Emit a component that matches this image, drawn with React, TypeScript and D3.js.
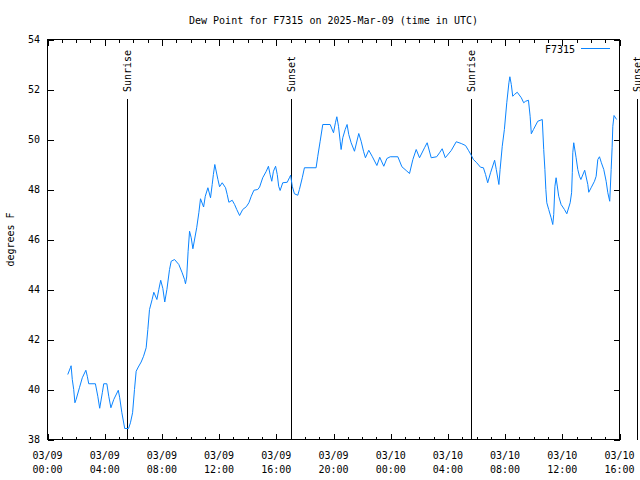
import React from "react";
import * as d3 from "d3";

const chartTitle = "Dew Point for F7315 on 2025-Mar-09 (time in UTC)";
const seriesName = "F7315";
const yLabel = "degrees F";

const times: string[] = [
  "2025-03-09T01:25", "2025-03-09T01:36", "2025-03-09T01:39", "2025-03-09T01:44", "2025-03-09T01:50",
  "2025-03-09T01:55", "2025-03-09T02:00", "2025-03-09T02:14", "2025-03-09T02:26", "2025-03-09T02:41",
  "2025-03-09T02:47", "2025-03-09T02:53", "2025-03-09T03:21", "2025-03-09T03:31", "2025-03-09T03:39",
  "2025-03-09T03:50", "2025-03-09T03:56", "2025-03-09T04:09", "2025-03-09T04:17", "2025-03-09T04:26",
  "2025-03-09T04:38", "2025-03-09T04:57", "2025-03-09T05:03", "2025-03-09T05:12", "2025-03-09T05:24",
  "2025-03-09T05:40", "2025-03-09T05:48", "2025-03-09T05:57", "2025-03-09T06:05", "2025-03-09T06:12",
  "2025-03-09T06:21", "2025-03-09T06:33", "2025-03-09T06:43", "2025-03-09T06:54", "2025-03-09T07:01",
  "2025-03-09T07:08", "2025-03-09T07:19", "2025-03-09T07:26", "2025-03-09T07:39", "2025-03-09T07:47",
  "2025-03-09T07:55", "2025-03-09T08:04", "2025-03-09T08:12", "2025-03-09T08:21", "2025-03-09T08:32",
  "2025-03-09T08:39", "2025-03-09T08:53", "2025-03-09T09:11", "2025-03-09T09:25", "2025-03-09T09:35",
  "2025-03-09T09:39", "2025-03-09T09:44", "2025-03-09T09:50", "2025-03-09T09:56", "2025-03-09T10:03",
  "2025-03-09T10:10", "2025-03-09T10:26", "2025-03-09T10:35", "2025-03-09T10:42", "2025-03-09T10:55",
  "2025-03-09T11:02", "2025-03-09T11:13", "2025-03-09T11:24", "2025-03-09T11:31", "2025-03-09T11:36",
  "2025-03-09T11:42", "2025-03-09T11:55", "2025-03-09T12:02", "2025-03-09T12:13", "2025-03-09T12:27",
  "2025-03-09T12:34", "2025-03-09T12:41", "2025-03-09T12:55", "2025-03-09T13:05", "2025-03-09T13:14",
  "2025-03-09T13:26", "2025-03-09T13:39", "2025-03-09T13:54", "2025-03-09T14:05", "2025-03-09T14:15",
  "2025-03-09T14:26", "2025-03-09T14:42", "2025-03-09T14:50", "2025-03-09T15:03", "2025-03-09T15:18",
  "2025-03-09T15:27", "2025-03-09T15:34", "2025-03-09T15:41", "2025-03-09T15:48", "2025-03-09T15:57",
  "2025-03-09T16:04", "2025-03-09T16:10", "2025-03-09T16:16", "2025-03-09T16:27", "2025-03-09T16:46",
  "2025-03-09T16:55", "2025-03-09T17:00", "2025-03-09T17:07", "2025-03-09T17:16", "2025-03-09T17:30",
  "2025-03-09T17:37", "2025-03-09T17:49", "2025-03-09T17:58", "2025-03-09T18:47", "2025-03-09T18:54",
  "2025-03-09T19:04", "2025-03-09T19:15", "2025-03-09T19:46", "2025-03-09T20:00", "2025-03-09T20:08",
  "2025-03-09T20:14", "2025-03-09T20:21", "2025-03-09T20:28", "2025-03-09T20:32", "2025-03-09T20:39",
  "2025-03-09T20:49", "2025-03-09T20:57", "2025-03-09T21:04", "2025-03-09T21:14", "2025-03-09T21:28",
  "2025-03-09T21:46", "2025-03-09T21:56", "2025-03-09T22:06", "2025-03-09T22:14", "2025-03-09T22:28",
  "2025-03-09T22:42", "2025-03-09T23:02", "2025-03-09T23:14", "2025-03-09T23:31", "2025-03-09T23:44",
  "2025-03-09T23:58", "2025-03-10T00:30", "2025-03-10T00:47", "2025-03-10T01:05", "2025-03-10T01:19",
  "2025-03-10T01:33", "2025-03-10T01:47", "2025-03-10T02:01", "2025-03-10T02:22", "2025-03-10T02:33",
  "2025-03-10T02:50", "2025-03-10T03:13", "2025-03-10T03:25", "2025-03-10T03:36", "2025-03-10T03:49",
  "2025-03-10T04:14", "2025-03-10T04:35", "2025-03-10T04:56", "2025-03-10T05:14", "2025-03-10T05:26",
  "2025-03-10T05:38", "2025-03-10T05:47", "2025-03-10T05:59", "2025-03-10T06:17", "2025-03-10T06:29",
  "2025-03-10T06:38", "2025-03-10T06:47", "2025-03-10T06:59", "2025-03-10T07:16", "2025-03-10T07:23",
  "2025-03-10T07:34", "2025-03-10T07:39", "2025-03-10T07:48", "2025-03-10T07:57", "2025-03-10T08:07",
  "2025-03-10T08:16", "2025-03-10T08:20", "2025-03-10T08:26", "2025-03-10T08:32", "2025-03-10T08:39",
  "2025-03-10T08:51", "2025-03-10T09:08", "2025-03-10T09:18", "2025-03-10T09:26", "2025-03-10T09:38",
  "2025-03-10T09:45", "2025-03-10T09:50", "2025-03-10T09:59", "2025-03-10T10:17", "2025-03-10T10:36",
  "2025-03-10T10:42", "2025-03-10T10:47", "2025-03-10T10:51", "2025-03-10T10:55", "2025-03-10T11:03",
  "2025-03-10T11:13", "2025-03-10T11:20", "2025-03-10T11:24", "2025-03-10T11:29", "2025-03-10T11:34",
  "2025-03-10T11:45", "2025-03-10T11:55", "2025-03-10T12:09", "2025-03-10T12:19", "2025-03-10T12:33",
  "2025-03-10T12:39", "2025-03-10T12:42", "2025-03-10T12:44", "2025-03-10T12:48", "2025-03-10T12:58",
  "2025-03-10T13:05", "2025-03-10T13:12", "2025-03-10T13:18", "2025-03-10T13:34", "2025-03-10T13:47",
  "2025-03-10T13:51", "2025-03-10T14:01", "2025-03-10T14:15", "2025-03-10T14:22", "2025-03-10T14:29",
  "2025-03-10T14:36", "2025-03-10T14:44", "2025-03-10T14:54", "2025-03-10T15:04", "2025-03-10T15:11",
  "2025-03-10T15:19", "2025-03-10T15:25", "2025-03-10T15:29", "2025-03-10T15:32", "2025-03-10T15:37",
  "2025-03-10T15:48",
];

const dewPoint: number[] = [
  40.6, 40.87, 40.95, 40.4, 40.0,
  39.47, 39.6, 40.07, 40.47, 40.77,
  40.53, 40.23, 40.23, 39.73, 39.25,
  39.87, 40.23, 40.23, 39.73, 39.27,
  39.6, 39.97, 39.67, 39.07, 38.44,
  38.44, 38.67, 39.07, 40.0, 40.73,
  40.9, 41.1, 41.33, 41.67, 42.4,
  43.2, 43.6, 43.89, 43.6, 44.0,
  44.37, 44.04, 43.5, 44.0, 44.8,
  45.13, 45.2, 45.0, 44.67, 44.4,
  44.23, 44.5, 45.53, 46.33, 46.07,
  45.63, 46.47, 47.07, 47.63, 47.3,
  47.73, 48.07, 47.67, 48.2, 48.6,
  49.0, 48.4, 48.11, 48.27, 48.07,
  47.8, 47.49, 47.57, 47.4, 47.2,
  46.96, 47.2, 47.31, 47.47, 47.73,
  47.97, 48.0, 48.1, 48.47, 48.73,
  48.93, 48.6, 48.33, 48.73, 48.93,
  48.6, 48.13, 47.96, 48.27, 48.29,
  48.47, 48.57, 48.13, 47.83, 47.77,
  48.0, 48.47, 48.87, 48.87, 49.33,
  49.93, 50.6, 50.6, 50.27, 50.67,
  50.91, 50.53, 49.93, 49.6, 50.07,
  50.4, 50.6, 50.2, 49.87, 49.53,
  50.24, 49.93, 49.53, 49.27, 49.57,
  49.33, 48.96, 49.29, 48.93, 49.24,
  49.31, 49.31, 48.91, 48.76, 48.64,
  49.2, 49.6, 49.27, 49.67, 49.87,
  49.27, 49.31, 49.47, 49.63, 49.27,
  49.56, 49.91, 49.84, 49.76, 49.57,
  49.37, 49.2, 49.09, 48.89, 48.87,
  48.6, 48.27, 48.67, 49.17, 48.8,
  48.2, 48.8, 49.73, 50.4, 51.47,
  52.27, 52.51, 52.2, 51.73, 51.8,
  51.89, 51.67, 51.47, 51.53, 51.57,
  50.93, 50.23, 50.4, 50.73, 50.8,
  49.6, 48.8, 48.0, 47.47, 47.2,
  46.87, 46.6, 47.0, 48.13, 48.47,
  47.73, 47.4, 47.2, 47.03, 47.47,
  47.87, 48.67, 49.47, 49.87, 49.27,
  48.8, 48.53, 48.4, 48.77, 48.2,
  47.89, 48.07, 48.33, 48.53, 49.2,
  49.31, 49.07, 48.8, 48.33, 47.87,
  47.53, 48.8, 49.67, 50.53, 50.96,
  50.8,
];

const sunLabels: string[] = ["Sunrise", "Sunset", "Sunrise", "Sunset"];
const sunTimes: string[] = ["2025-03-09T05:33", "2025-03-09T17:00", "2025-03-10T05:35", "2025-03-10T17:13"];

const xStart = "2025-03-09T00:00";
const xEnd = "2025-03-10T16:00";
const yTicks: number[] = [38, 40, 42, 44, 46, 48, 50, 52, 54];

const W = 640;
const H = 480;
const L = 47.5;
const R = 619.5;
const T = 39.5;
const B = 439.5;
const FONT = "'DejaVu Sans Mono', monospace";
const BLUE = "#0a84ff";

const parse = d3.utcParse("%Y-%m-%dT%H:%M");

export default function App() {
  const x = d3.scaleUtc().domain([parse(xStart)!, parse(xEnd)!]).range([L, R]);
  const y = d3.scaleLinear().domain([38, 54]).range([B, T]);

  const pts = times.map((t, i) => [parse(t)!, dewPoint[i]] as [Date, number]);
  const line = d3
    .line<[Date, number]>()
    .x((d) => x(d[0]))
    .y((d) => y(d[1]));

  const majorTicks = x.ticks(d3.utcHour.every(4)!);
  const minorTicks = x.ticks(d3.utcHour.every(1)!);
  const fmtDate = d3.utcFormat("%m/%d");
  const fmtTime = d3.utcFormat("%H:%M");

  const sunTop = 99;

  return (
    <svg
      width={W}
      height={H}
      style={{ position: "absolute", left: 0, top: 0, background: "#fff" }}
      fontFamily={FONT}
      fontSize={10}
    >
      <rect x={0} y={0} width={W} height={H} fill="#fff" />
      <text x={(L + R) / 2} y={24} textAnchor="middle" fill="#000">
        {chartTitle}
      </text>

      {/* minor x ticks */}
      {minorTicks.map((t, i) => {
        const xx = Math.round(x(t)) + 0.5;
        return (
          <g key={"mi" + i} stroke="#000" shapeRendering="crispEdges">
            <line x1={xx} x2={xx} y1={B} y2={B - 3} />
            <line x1={xx} x2={xx} y1={T} y2={T + 3} />
          </g>
        );
      })}
      {/* major x ticks + labels */}
      {majorTicks.map((t, i) => {
        const xx = Math.round(x(t)) + 0.5;
        return (
          <g key={"ma" + i}>
            <line x1={xx} x2={xx} y1={B} y2={B - 6} stroke="#000" shapeRendering="crispEdges" />
            <line x1={xx} x2={xx} y1={T} y2={T + 6} stroke="#000" shapeRendering="crispEdges" />
            <text x={x(t)} y={459} textAnchor="middle" fill="#000">
              {fmtDate(t)}
            </text>
            <text x={x(t)} y={473} textAnchor="middle" fill="#000">
              {fmtTime(t)}
            </text>
          </g>
        );
      })}

      {/* y ticks + labels */}
      {yTicks.map((v) => {
        const yy = Math.round(y(v)) + 0.5;
        return (
          <g key={"y" + v}>
            <line x1={L} x2={L + 6} y1={yy} y2={yy} stroke="#000" shapeRendering="crispEdges" />
            <line x1={R} x2={R - 6} y1={yy} y2={yy} stroke="#000" shapeRendering="crispEdges" />
            <text x={40} y={y(v)} dy="0.35em" textAnchor="end" fill="#000">
              {v}
            </text>
          </g>
        );
      })}

      <text
        transform={`translate(10,${(T + B) / 2}) rotate(-90)`}
        textAnchor="middle"
        dy="0.35em"
        fill="#000"
      >
        {yLabel}
      </text>

      {/* sunrise / sunset markers */}
      {sunTimes.map((t, i) => {
        const xx = Math.round(x(parse(t)!)) + 0.5;
        return (
          <g key={"sun" + i}>
            <line x1={xx} x2={xx} y1={sunTop} y2={B} stroke="#000" shapeRendering="crispEdges" />
            <text
              transform={`translate(${xx},92) rotate(-90)`}
              textAnchor="start"
              dy="0.35em"
              fill="#000"
            >
              {sunLabels[i]}
            </text>
          </g>
        );
      })}

      {/* frame */}
      <rect
        x={L}
        y={T}
        width={R - L}
        height={B - T}
        fill="none"
        stroke="#000"
        shapeRendering="crispEdges"
      />

      {/* data */}
      <path d={line(pts) || ""} fill="none" stroke={BLUE} strokeWidth={1} />

      {/* legend */}
      <text x={575} y={49} dy="0.35em" textAnchor="end" fill="#000">
        {seriesName}
      </text>
      <line x1={581} x2={610} y1={48.5} y2={48.5} stroke={BLUE} shapeRendering="crispEdges" />
    </svg>
  );
}
